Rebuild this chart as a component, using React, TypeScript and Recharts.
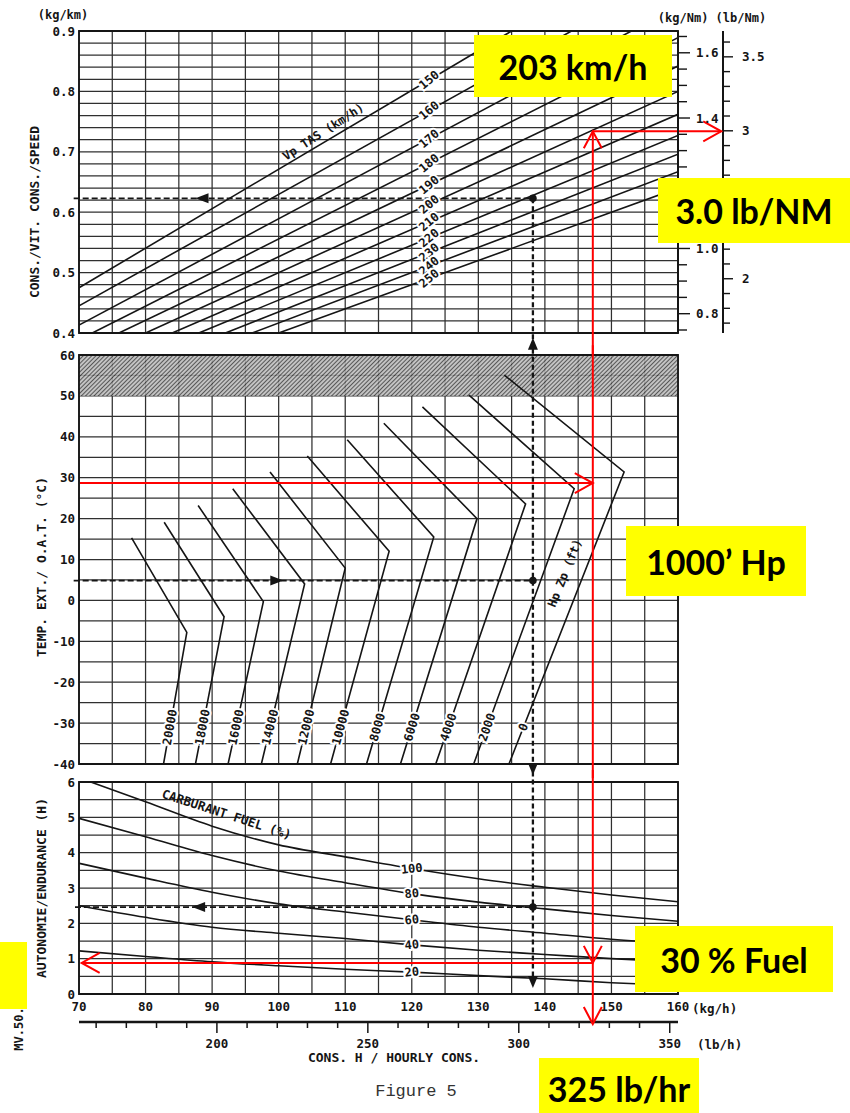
import React from "react";
import {
  ComposedChart,
  Line,
  XAxis,
  YAxis,
  CartesianGrid,
  ReferenceLine,
  ReferenceArea,
  ReferenceDot,
} from "recharts";

// shared fuel-flow axis (kg/h)
const kgTicks = [70, 75, 80, 85, 90, 95, 100, 105, 110, 115, 120, 125, 130, 135, 140, 145, 150, 155, 160];
const kgLabels = [70, 80, 90, 100, 110, 120, 130, 140, 150, 160];
const lbhTicks = [160, 170, 180, 190, 200, 210, 220, 230, 240, 250, 260, 270, 280, 290, 300, 310, 320, 330, 340, 350];
const lbhLabels = [200, 250, 300, 350];
const lbhDomain = [154.32, 352.74];

// top panel: consumption per distance
const kmTicks = [0.4, 0.42, 0.44, 0.46, 0.48, 0.5, 0.52, 0.54, 0.56, 0.58, 0.6, 0.62, 0.64, 0.66, 0.68, 0.7, 0.72, 0.74, 0.76, 0.78, 0.8, 0.82, 0.84, 0.86, 0.88, 0.9];
const kmLabels = [0.4, 0.5, 0.6, 0.7, 0.8, 0.9];
const nmTicks = [0.75, 0.8, 0.85, 0.9, 0.95, 1.0, 1.05, 1.1, 1.15, 1.2, 1.25, 1.3, 1.35, 1.4, 1.45, 1.5, 1.55, 1.6, 1.65];
const nmLabels = [0.8, 1.0, 1.4, 1.6];
const nmMajor = [0.8, 1.0, 1.2, 1.4, 1.6];
const lbnmTicks = [1.7, 1.8, 1.9, 2.0, 2.1, 2.2, 2.3, 2.4, 2.5, 2.6, 2.7, 2.8, 2.9, 3.0, 3.1, 3.2, 3.3, 3.4, 3.5, 3.6];
const lbnmLabels = [2, 3, 3.5];
const lbnmMajor = [2, 2.5, 3, 3.5];

const tasSpeeds = [150, 160, 170, 180, 190, 200, 210, 220, 230, 240, 250];
const tasStart = [[70, 0.475], [70, 0.445], [70, 0.413], [72, 0.4], [76, 0.4], [80, 0.4], [84, 0.4], [88, 0.4], [92, 0.4], [96, 0.4], [100, 0.4]];
const tasEnd = [[135, 0.9], [144, 0.9], [153, 0.9], [160, 0.889], [160, 0.842], [160, 0.8], [160, 0.762], [160, 0.727], [160, 0.696], [160, 0.667], [160, 0.64]];

// middle panel: OAT vs pressure altitude
const tempTicks = [-40, -35, -30, -25, -20, -15, -10, -5, 0, 5, 10, 15, 20, 25, 30, 35, 40, 45, 50, 55, 60];
const tempLabels = [-40, -30, -20, -10, 0, 10, 20, 30, 40, 50, 60];
const altitudes = ["20000", "18000", "16000", "14000", "12000", "10000", "8000", "6000", "4000", "2000", "0"];
const altStart = [[77.9, 15.3], [82.8, 19.1], [87.9, 23.2], [93.1, 27.3], [98.7, 31.4], [104.3, 35.3], [110.3, 39.3], [115.8, 43.3], [121.6, 47.3], [128.6, 50.2], [133.9, 55.1]];
const altKnee = [[86.2, -7.8], [91.8, -4.0], [97.7, -0.3], [103.9, 4.0], [110.0, 7.9], [116.6, 12.0], [123.3, 15.5], [129.8, 20.0], [137.1, 23.6], [144.4, 27.3], [151.9, 31.4]];
const altEnd = [[82.7, -40], [87.5, -40], [92.4, -40], [97.4, -40], [102.8, -40], [107.8, -40], [113.2, -40], [118.3, -40], [123.6, -40], [129.3, -40], [134.6, -40]];

// bottom panel: endurance
const endTicks = [0, 0.5, 1, 1.5, 2, 2.5, 3, 3.5, 4, 4.5, 5, 5.5, 6];
const endLabels = [0, 1, 2, 3, 4, 5, 6];
const fuelPct = ["100", "80", "60", "40", "20"];
const fuelX = [70, 80, 90, 100, 110, 120, 130, 140, 150, 160];
const fuel100 = [6.12, 5.44, 4.75, 4.22, 3.88, 3.55, 3.26, 3.02, 2.8, 2.61];
const fuel80 = [4.97, 4.45, 3.92, 3.48, 3.15, 2.84, 2.6, 2.41, 2.22, 2.06];
const fuel60 = [3.7, 3.28, 2.88, 2.55, 2.32, 2.1, 1.89, 1.72, 1.55, 1.43];
const fuel40 = [2.5, 2.17, 1.89, 1.72, 1.57, 1.39, 1.24, 1.12, 1.0, 0.91];
const fuel20 = [1.22, 1.06, 0.91, 0.8, 0.7, 0.62, 0.52, 0.43, 0.32, 0.24];
const fuelSeries = [fuel100, fuel80, fuel60, fuel40, fuel20];

// worked example
const exFlow = 138.2;
const exCons = 0.623;
const exTemp = 4.85;
const exEnd = 2.46;
const redFlow = 147.2;
const redCons = 0.734;
const redTemp = 28.7;
const redEnd = 0.88;

const FONT = "'DejaVu Sans Mono', monospace";
const INK = "#151515";
const GRID = "#303030";
const RED = "#ff0000";

const near = (list: number[], v: number) => list.some((l) => Math.abs(l - v) < 1e-6);

const txt = {
  fontFamily: FONT,
  fontWeight: "bold" as const,
  fill: INK,
};

const noTick = () => <g />;

const leftTick = (labels: number[], fmt: (v: number) => string) => (p: any) => {
  const v = p.payload.value;
  if (!near(labels, v)) return <g />;
  return (
    <text x={p.x} y={p.y} dy={4.5} textAnchor="end" fontSize={12.5} {...txt}>
      {fmt(v)}
    </text>
  );
};

const rightTick =
  (labels: number[], majors: number[], fmt: (v: number) => string, long: number, short: number, gap: number) =>
  (p: any) => {
    const v = p.payload.value;
    const major = near(majors, v);
    return (
      <g>
        <line x1={p.x} x2={p.x + (major ? long : short)} y1={p.y} y2={p.y} stroke={INK} strokeWidth={1.4} />
        {near(labels, v) && (
          <text x={p.x + gap} y={p.y} dy={4.5} textAnchor="start" fontSize={12.5} {...txt}>
            {fmt(v)}
          </text>
        )}
      </g>
    );
  };

const kgTick = (p: any) => {
  const v = p.payload.value;
  if (!near(kgLabels, v)) return <g />;
  return (
    <text x={p.x} y={p.y} dy={17} textAnchor="middle" fontSize={12.5} {...txt}>
      {v}
    </text>
  );
};

const lbTick = (p: any) => {
  const v = p.payload.value;
  const major = near(lbhLabels, v);
  return (
    <g>
      <line x1={p.x} x2={p.x} y1={p.y} y2={p.y + (major ? 11 : 6)} stroke={INK} strokeWidth={1.5} />
      {major && (
        <text x={p.x} y={p.y} dy={26} textAnchor="middle" fontSize={12.5} {...txt}>
          {v}
        </text>
      )}
    </g>
  );
};

// rotated text, with a white halo that breaks the line underneath
const rotText = (label: string, angle: number, size = 11, halo = true) => (p: any) => (
  <text
    x={p.cx}
    y={p.cy}
    transform={`rotate(${angle} ${p.cx} ${p.cy})`}
    textAnchor="middle"
    dominantBaseline="central"
    fontSize={size}
    stroke={halo ? "#fff" : "none"}
    strokeWidth={halo ? 4 : 0}
    paintOrder="stroke"
    {...txt}
  >
    {label}
  </text>
);

const tri = (dir: "up" | "down" | "left" | "right") => (p: any) => {
  const { cx, cy } = p;
  const pts =
    dir === "up"
      ? `${cx},${cy} ${cx - 5},${cy + 12} ${cx + 5},${cy + 12}`
      : dir === "down"
      ? `${cx},${cy} ${cx - 5},${cy - 12} ${cx + 5},${cy - 12}`
      : dir === "left"
      ? `${cx},${cy} ${cx + 13},${cy - 5} ${cx + 13},${cy + 5}`
      : `${cx},${cy} ${cx - 13},${cy - 5} ${cx - 13},${cy + 5}`;
  return <polygon points={pts} fill={INK} />;
};

const openHead = (dir: "up" | "down" | "left" | "right") => (p: any) => {
  const { cx, cy } = p;
  const pts =
    dir === "up"
      ? `${cx - 9},${cy + 17} ${cx},${cy} ${cx + 9},${cy + 17}`
      : dir === "down"
      ? `${cx - 9},${cy - 17} ${cx},${cy} ${cx + 9},${cy - 17}`
      : dir === "left"
      ? `${cx + 18},${cy - 10} ${cx},${cy} ${cx + 18},${cy + 10}`
      : `${cx - 18},${cy - 10} ${cx},${cy} ${cx - 18},${cy + 10}`;
  return <polyline points={pts} fill="none" stroke={RED} strokeWidth={2} />;
};

const blackDot = (p: any) => <circle cx={p.cx} cy={p.cy} r={3.8} fill={INK} />;

const TAS_LABEL_X = 122.6;
const ALT_LABEL_T = -31;
const PX_PER_KG = 6.656;
const PX_PER_DEG = 4.09;
const CURVE_W = 1.6;
const GRID_W = 1.25;

function TopPanel() {
  return (
    <ComposedChart width={850} height={355} margin={{ top: 31, right: 61, bottom: 22, left: 19 }}>
      <CartesianGrid yAxisId="l" stroke={GRID} strokeWidth={GRID_W} />
      <XAxis type="number" dataKey="x" domain={[70, 160]} ticks={kgTicks} interval={0} allowDataOverflow height={0} tick={noTick} axisLine={false} tickLine={false} />
      <YAxis yAxisId="l" type="number" domain={[0.4, 0.9]} ticks={kmTicks} interval={0} allowDataOverflow width={60} axisLine={false} tickLine={false} tickSize={0} tickMargin={4} tick={leftTick(kmLabels, (v) => v.toFixed(1))} />
      <YAxis yAxisId="sp" orientation="right" type="number" domain={[0, 1]} width={6} axisLine={false} tickLine={false} tick={false} />
      <YAxis yAxisId="kn" orientation="right" type="number" domain={[0.7408, 1.6668]} ticks={nmTicks} interval={0} allowDataOverflow width={45} axisLine={{ stroke: INK, strokeWidth: 2 }} tickLine={false} tickSize={0} tickMargin={0} tick={rightTick(nmLabels, nmMajor, (v) => v.toFixed(1), 12, 9, 18)} />
      <YAxis yAxisId="lbn" orientation="right" type="number" domain={[1.6332, 3.6746]} ticks={lbnmTicks} interval={0} allowDataOverflow width={60} axisLine={{ stroke: INK, strokeWidth: 2 }} tickLine={false} tickSize={0} tickMargin={0} tick={rightTick(lbnmLabels, lbnmMajor, (v) => (Number.isInteger(v) ? String(v) : v.toFixed(1)), 10, 7, 19)} />
      <ReferenceArea yAxisId="l" x1={70} x2={160} y1={0.4} y2={0.9} fill="none" stroke={INK} strokeWidth={1.8} />

      {tasSpeeds.map((v, i) => (
        <Line
          key={v}
          yAxisId="l"
          data={[
            { x: tasStart[i][0], y: tasStart[i][1] },
            { x: tasEnd[i][0], y: tasEnd[i][1] },
          ]}
          dataKey="y"
          type="linear"
          stroke={INK}
          strokeWidth={CURVE_W}
          dot={false}
          activeDot={false}
          isAnimationActive={false}
        />
      ))}
      {tasSpeeds.map((v, i) => {
        const [sx, sy] = tasStart[i];
        const [ex, ey] = tasEnd[i];
        const y = sy + ((ey - sy) * (TAS_LABEL_X - sx)) / (ex - sx);
        return <ReferenceDot key={"t" + v} yAxisId="l" x={TAS_LABEL_X} y={y} r={0} shape={rotText(String(v), -40, 12)} />;
      })}
      <ReferenceDot yAxisId="l" x={106.7} y={0.733} r={0} shape={rotText("Vp TAS (km/h)", -33, 12, false)} />

      {/* worked example (black) */}
      <ReferenceLine yAxisId="l" segment={[{ x: 69.2, y: exCons }, { x: exFlow, y: exCons }]} stroke={INK} strokeWidth={1.7} strokeDasharray="6 3" ifOverflow="visible" />
      <ReferenceLine yAxisId="l" segment={[{ x: exFlow, y: exCons }, { x: exFlow, y: 0.38 }]} stroke={INK} strokeWidth={2.3} strokeDasharray="5 3" ifOverflow="visible" />
      <ReferenceDot yAxisId="l" x={87.5} y={exCons} r={0} shape={tri("left")} />
      <ReferenceDot yAxisId="l" x={exFlow} y={exCons} r={0} shape={blackDot} />
      <ReferenceDot yAxisId="l" x={exFlow} y={0.392} r={0} ifOverflow="visible" shape={tri("up")} />

      {/* red annotation */}
      <ReferenceLine yAxisId="l" segment={[{ x: redFlow, y: redCons }, { x: redFlow, y: 0.36 }]} stroke={RED} strokeWidth={2} ifOverflow="visible" />
      <ReferenceLine yAxisId="l" segment={[{ x: redFlow, y: redCons }, { x: 166.5, y: redCons }]} stroke={RED} strokeWidth={2} ifOverflow="visible" />
      <ReferenceDot yAxisId="l" x={redFlow} y={redCons} r={0} ifOverflow="visible" shape={openHead("up")} />
      <ReferenceDot yAxisId="l" x={166.5} y={redCons} r={0} ifOverflow="visible" shape={openHead("right")} />
    </ComposedChart>
  );
}

function MiddlePanel() {
  return (
    <ComposedChart width={850} height={435} margin={{ top: 10, right: 172, bottom: 16, left: 19 }}>
      <defs>
        <pattern id="hatch" width="3" height="3" patternUnits="userSpaceOnUse" patternTransform="rotate(45)">
          <rect x="0" y="0" width="3" height="3" fill="#b8b8b8" />
          <line x1="0" y1="0" x2="0" y2="3" stroke="#111" strokeWidth="1.5" />
        </pattern>
      </defs>
      <CartesianGrid stroke={GRID} strokeWidth={GRID_W} />
      <XAxis type="number" dataKey="x" domain={[70, 160]} ticks={kgTicks} interval={0} allowDataOverflow height={0} tick={noTick} axisLine={false} tickLine={false} />
      <YAxis type="number" domain={[-40, 60]} ticks={tempTicks} interval={0} allowDataOverflow width={60} axisLine={false} tickLine={false} tickSize={0} tickMargin={4} tick={leftTick(tempLabels, (v) => String(v))} />
      <ReferenceArea x1={70} x2={160} y1={50} y2={60} fill="url(#hatch)" fillOpacity={0.85} stroke="none" />
      <ReferenceArea x1={70} x2={160} y1={-40} y2={60} fill="none" stroke={INK} strokeWidth={1.8} />

      {altitudes.map((a, i) => (
        <Line
          key={a}
          data={[
            { x: altStart[i][0], y: altStart[i][1] },
            { x: altKnee[i][0], y: altKnee[i][1] },
            { x: altEnd[i][0], y: altEnd[i][1] },
          ]}
          dataKey="y"
          type="linear"
          stroke={INK}
          strokeWidth={CURVE_W}
          dot={false}
          activeDot={false}
          isAnimationActive={false}
        />
      ))}
      {altitudes.map((a, i) => {
        const [kx, kt] = altKnee[i];
        const [ex, et] = altEnd[i];
        const x = kx + ((ex - kx) * (kt - ALT_LABEL_T)) / (kt - et);
        const ang = (Math.atan2(-(kt - et) * PX_PER_DEG, (kx - ex) * PX_PER_KG) * 180) / Math.PI;
        return <ReferenceDot key={"a" + a} x={x} y={ALT_LABEL_T} r={0} shape={rotText(a, ang, 12)} />;
      })}
      <ReferenceDot x={143} y={6.7} r={0} shape={rotText("Hp Zp (ft)", -68, 12, false)} />

      {/* worked example (black) */}
      <ReferenceLine segment={[{ x: 69.2, y: exTemp }, { x: exFlow, y: exTemp }]} stroke={INK} strokeWidth={1.7} strokeDasharray="6 3" ifOverflow="visible" />
      <ReferenceLine segment={[{ x: exFlow, y: 61.5 }, { x: exFlow, y: -41 }]} stroke={INK} strokeWidth={2.3} strokeDasharray="5 3" ifOverflow="visible" />
      <ReferenceDot x={100.7} y={exTemp} r={0} shape={tri("right")} />
      <ReferenceDot x={exFlow} y={exTemp} r={0} shape={blackDot} />
      <ReferenceDot x={exFlow} y={-42.7} r={0} ifOverflow="visible" shape={tri("down")} />

      {/* red annotation */}
      <ReferenceLine segment={[{ x: redFlow, y: 62.4 }, { x: redFlow, y: -43.5 }]} stroke={RED} strokeWidth={2} ifOverflow="visible" />
      <ReferenceLine segment={[{ x: 70.15, y: redTemp }, { x: redFlow, y: redTemp }]} stroke={RED} strokeWidth={2} ifOverflow="visible" />
      <ReferenceDot x={redFlow} y={redTemp} r={0} ifOverflow="visible" shape={openHead("right")} />
    </ComposedChart>
  );
}

function BottomPanel() {
  return (
    <ComposedChart width={850} height={343} margin={{ top: 12, right: 172, bottom: 51, left: 19 }}>
      <CartesianGrid stroke={GRID} strokeWidth={GRID_W} />
      <XAxis type="number" dataKey="x" domain={[70, 160]} ticks={kgTicks} interval={0} allowDataOverflow height={28} axisLine={false} tickLine={false} tickSize={0} tickMargin={0} tick={kgTick} />
      <XAxis xAxisId="lb" type="number" dataKey="x" domain={lbhDomain} ticks={lbhTicks} interval={0} allowDataOverflow height={40} axisLine={{ stroke: INK, strokeWidth: 2.5 }} tickLine={false} tickSize={0} tickMargin={0} tick={lbTick} />
      <YAxis type="number" domain={[0, 6]} ticks={endTicks} interval={0} allowDataOverflow width={60} axisLine={false} tickLine={false} tickSize={0} tickMargin={4} tick={leftTick(endLabels, (v) => String(v))} />
      <ReferenceArea x1={70} x2={160} y1={0} y2={6} fill="none" stroke={INK} strokeWidth={1.8} />

      {/* carries the lb/h scale so that its ticks are built; lies below the plot */}
      <Line
        xAxisId="lb"
        data={lbhDomain.map((x) => ({ x, y: -5 }))}
        dataKey="y"
        stroke="none"
        dot={false}
        activeDot={false}
        isAnimationActive={false}
      />

      {fuelSeries.map((s, i) => (
        <Line
          key={fuelPct[i]}
          data={fuelX.map((x, j) => ({ x, y: s[j] }))}
          dataKey="y"
          type="monotone"
          stroke={INK}
          strokeWidth={CURVE_W}
          dot={false}
          activeDot={false}
          isAnimationActive={false}
        />
      ))}
      {fuelSeries.map((s, i) => (
        <ReferenceDot key={"f" + i} x={fuelX[5]} y={s[5]} r={0} shape={rotText(fuelPct[i], -6, 12)} />
      ))}
      <ReferenceDot x={92.2} y={5.09} r={0} shape={rotText("CARBURANT FUEL (%)", 18, 12.5, false)} />

      {/* worked example (black) */}
      <ReferenceLine segment={[{ x: 69.4, y: exEnd }, { x: exFlow, y: exEnd }]} stroke={INK} strokeWidth={1.7} strokeDasharray="6 3" ifOverflow="visible" />
      <ReferenceLine segment={[{ x: exFlow, y: 6.3 }, { x: exFlow, y: 0.4 }]} stroke={INK} strokeWidth={2.3} strokeDasharray="5 3" ifOverflow="visible" />
      <ReferenceDot x={87.0} y={exEnd} r={0} shape={tri("left")} />
      <ReferenceDot x={exFlow} y={exEnd} r={0} shape={blackDot} />
      <ReferenceDot x={exFlow} y={0.17} r={0} shape={tri("down")} />

      {/* red annotation */}
      <ReferenceLine segment={[{ x: redFlow, y: 6.34 }, { x: redFlow, y: -0.85 }]} stroke={RED} strokeWidth={2} ifOverflow="visible" />
      <ReferenceLine segment={[{ x: 70.4, y: redEnd }, { x: redFlow, y: redEnd }]} stroke={RED} strokeWidth={2} ifOverflow="visible" />
      <ReferenceDot x={redFlow} y={redEnd} r={0} ifOverflow="visible" shape={openHead("down")} />
      <ReferenceDot x={70.4} y={redEnd} r={0} ifOverflow="visible" shape={openHead("left")} />
      <ReferenceDot x={redFlow} y={-0.85} r={0} ifOverflow="visible" shape={openHead("down")} />
    </ComposedChart>
  );
}

const boxStyle = (left: number, top: number, width: number, height: number): React.CSSProperties => ({
  position: "absolute",
  left,
  top,
  width,
  height,
  background: "#ffff00",
  display: "flex",
  alignItems: "center",
  justifyContent: "center",
  fontFamily: "Lato, 'Open Sans', sans-serif",
  fontWeight: 700,
  fontSize: 34,
  color: "#000",
  whiteSpace: "nowrap",
});

export default function App() {
  const t = { fontFamily: FONT, fontWeight: "bold" as const, fill: INK };
  return (
    <div style={{ position: "absolute", left: 0, top: 0, width: 850, height: 1113, background: "#fff", overflow: "hidden" }}>
      <div style={{ position: "absolute", left: 0, top: 0 }}>
        <TopPanel />
      </div>
      <div style={{ position: "absolute", left: 0, top: 345 }}>
        <MiddlePanel />
      </div>
      <div style={{ position: "absolute", left: 0, top: 770 }}>
        <BottomPanel />
      </div>

      <svg width={850} height={1113} style={{ position: "absolute", left: 0, top: 0, pointerEvents: "none" }}>
        <text x={63} y={19} textAnchor="middle" fontSize={12} {...t}>(kg/km)</text>
        <text x={712} y={22} textAnchor="middle" fontSize={12} {...t}>(kg/Nm) (lb/Nm)</text>
        <text x={34} y={212} transform="rotate(-90 34 212)" textAnchor="middle" dominantBaseline="central" fontSize={13} {...t}>CONS./VIT. CONS./SPEED</text>
        <text x={41} y={567} transform="rotate(-90 41 567)" textAnchor="middle" dominantBaseline="central" fontSize={13} {...t}>TEMP. EXT./ O.A.T. (°C)</text>
        <text x={41} y={888} transform="rotate(-90 41 888)" textAnchor="middle" dominantBaseline="central" fontSize={13} {...t}>AUTONOMIE/ENDURANCE (H)</text>
        <text x={692} y={1013} textAnchor="start" fontSize={12.5} {...t}>(kg/h)</text>
        <text x={697} y={1049} textAnchor="start" fontSize={12.5} {...t}>(lb/h)</text>
        <text x={394} y={1062} textAnchor="middle" fontSize={13} {...t}>CONS. H / HOURLY CONS.</text>
        <text x={416} y={1096} textAnchor="middle" fontSize={17} fontFamily="'Liberation Mono', monospace" fill="#333">Figure 5</text>
        <text x={19} y={1029} transform="rotate(-90 19 1029)" textAnchor="middle" dominantBaseline="central" fontSize={12} {...t}>MV.50.</text>
      </svg>

      <div style={boxStyle(474, 35, 198, 62)}>203 km/h</div>
      <div style={boxStyle(658, 178, 192, 65)}>3.0 lb/NM</div>
      <div style={boxStyle(626, 526, 180, 70)}>1000’ Hp</div>
      <div style={boxStyle(635, 926, 198, 66)}>30 % Fuel</div>
      <div style={{ ...boxStyle(539, 1058, 160, 55), alignItems: "flex-end", paddingBottom: 4, boxSizing: "border-box" }}>325 lb/hr</div>
      <div style={boxStyle(0, 942, 27, 67)} />
    </div>
  );
}
